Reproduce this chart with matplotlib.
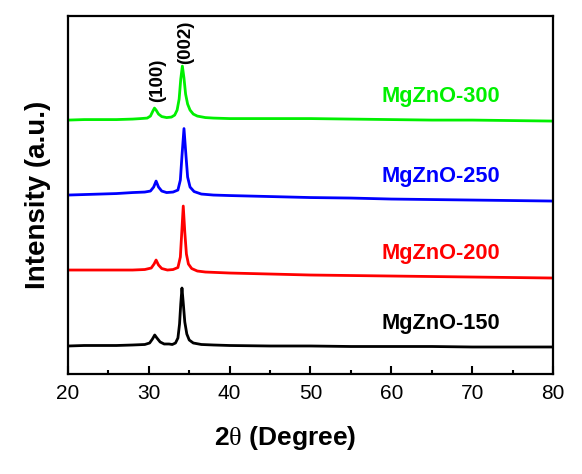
import numpy as np
import matplotlib
matplotlib.use("Agg")
import matplotlib.pyplot as plt
from matplotlib.ticker import MultipleLocator

plt.rcParams["font.family"] = ["Liberation Sans", "DejaVu Sans"]
plt.rcParams["mathtext.fontset"] = "custom"
plt.rcParams["mathtext.rm"] = "Liberation Serif"

# ---------------------------------------------------------
# XRD patterns (2theta in degree, stacked intensity a.u.)
# ---------------------------------------------------------
tt_150 = [20, 22, 24, 26, 28, 29.5, 30.1, 30.45, 30.73, 31.0, 31.4, 31.9, 32.5, 32.9,
          33.3, 33.6, 33.8, 33.95, 34.1, 34.25, 34.45, 34.7, 35.0, 35.5, 36.5, 38, 40,
          45, 50, 55, 60, 65, 70, 75, 80]
i_150 = [28, 28.5, 28.5, 28.5, 29, 29.5, 31, 35, 39, 36, 32, 30, 30, 29.5,
         31, 36, 50, 70, 86, 72, 52, 40, 34, 31, 29.5, 29, 28.5,
         28, 28, 27.5, 27.5, 27.5, 27, 27, 27]

tt_200 = [20, 22, 24, 26, 28, 29.5, 30.3, 30.65, 30.9, 31.2, 31.6, 32.3, 33.0, 33.6,
          33.9, 34.05, 34.26, 34.45, 34.65, 34.9, 35.3, 36, 37, 40, 45, 50, 55, 60,
          65, 70, 75, 80]
i_200 = [104, 104, 104, 104, 104, 104.5, 106, 110, 114, 109, 105.5, 104, 104.5, 106.5,
         117, 138, 168, 142, 120, 110, 105.5, 103, 102, 101, 100, 99, 98.5, 98,
         97.5, 97, 96.5, 96]

tt_250 = [20, 22, 24, 26, 28, 29.5, 30.2, 30.6, 30.9, 31.2, 31.6, 32.2, 33.0, 33.6,
          33.9, 34.1, 34.35, 34.6, 34.8, 35.1, 35.6, 36.5, 38, 40, 45, 50, 55, 60,
          65, 70, 75, 80]
i_250 = [179, 179.5, 180, 180.5, 181.5, 182, 183, 187, 193, 187, 183, 181.5, 182, 184,
         194, 218, 245.5, 218, 197, 187, 182.5, 180, 179, 178.5, 177.5, 176.5, 176, 175,
         174.5, 174, 173.5, 173]

tt_300 = [20, 22, 24, 26, 28, 29, 29.8, 30.2, 30.5, 30.7, 30.9, 31.2, 31.6, 32.2,
          32.8, 33.2, 33.5, 33.75, 33.95, 34.15, 34.35, 34.55, 34.8, 35.1, 35.5, 36,
          37, 38, 40, 45, 50, 55, 60, 65, 70, 75, 80]
i_300 = [254, 254.5, 254.5, 254.5, 255, 255.5, 256, 258, 263, 266, 264, 260, 257.5, 256.5,
         257, 259, 264, 275, 295, 308, 296, 280, 270, 264, 260, 258,
         256.5, 256, 255.5, 255.5, 255.5, 255, 254.5, 254, 254, 253.5, 253]

labels = ["MgZnO-150", "MgZnO-200", "MgZnO-250", "MgZnO-300"]
colors = ["black", "#ff0000", "#0000ff", "#00f000"]
label_y = [51, 121, 198, 278]

fig = plt.figure(figsize=(5.82, 4.74), dpi=100)
ax = fig.add_axes([0.1168, 0.211, 0.8334, 0.755])

curves = [(tt_150, i_150), (tt_200, i_200), (tt_250, i_250), (tt_300, i_300)]
for (tt, inten), c, lab, ly in zip(curves, colors, labels, label_y):
    ax.plot(tt, inten, color=c, lw=2.0)
    ax.text(66.15, ly, lab, color=c, fontsize=15.7, fontweight="bold",
            ha="center", va="center")

# peak indices
ax.text(31.1, 294, "(100)", rotation=90, fontsize=13.5, fontweight="bold",
        ha="center", va="center")
ax.text(34.5, 332, "(002)", rotation=90, fontsize=13.5, fontweight="bold",
        ha="center", va="center")

ax.set_xlim(20, 80)
ax.set_ylim(0, 358)
ax.xaxis.set_major_locator(MultipleLocator(10))
ax.xaxis.set_minor_locator(MultipleLocator(5))
ax.set_yticks([])
ax.tick_params(axis="x", which="major", direction="in", length=6, width=1.5,
               labelsize=15, pad=7)
ax.tick_params(axis="x", which="minor", direction="in", length=3, width=1.5)
for s in ax.spines.values():
    s.set_linewidth(1.6)

ax.set_xlabel(r"2$\mathrm{\theta}$ (Degree)", fontsize=19, fontweight="bold")
ax.xaxis.set_label_coords(0.448, -0.141)
ax.set_ylabel("Intensity (a.u.)", fontsize=20, fontweight="bold", labelpad=12)

fig.savefig("out.png", dpi=100)
